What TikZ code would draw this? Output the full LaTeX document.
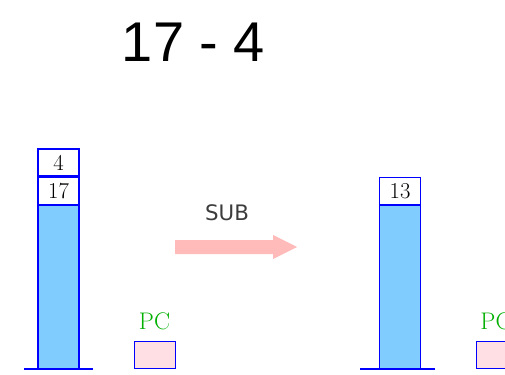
\documentclass[tikz,border=0pt]{standalone}
\usepackage{fontspec}
\newfontfamily\handfont{Liberation Sans}
\newfontfamily\opfont{DejaVu Sans}
\definecolor{stackblue}{RGB}{128,204,255}
\definecolor{edgeblue}{RGB}{0,0,255}
\definecolor{pcpink}{RGB}{255,222,228}
\definecolor{pcgreen}{RGB}{0,175,0}
\definecolor{arrowpink}{RGB}{255,186,186}
\definecolor{opgray}{RGB}{60,60,60}
\tikzset{
  cell/.style={draw=edgeblue, fill=white, line width=1pt, minimum width=30.75pt, minimum height=20.25pt, inner sep=0pt, font=\fontsize{17}{19}\selectfont},
  bar/.style={draw=edgeblue, fill=stackblue, line width=1pt, minimum width=30.75pt, inner sep=0pt},
  pcbox/.style={draw=edgeblue, fill=pcpink, line width=1pt, minimum width=30.75pt, minimum height=20.25pt, inner sep=0pt},
  pclabel/.style={text=pcgreen, inner sep=0.75pt, font=\fontsize{18}{20}\selectfont},
  ground/.style={draw=edgeblue, line width=1pt}
}
\begin{document}
\begin{tikzpicture}[x=0.75pt,y=0.75pt,yscale=-1,xscale=1]
\useasboundingbox (0,0) rectangle (505,374);
\clip (0,0) rectangle (505,374);

% Text Node
\node (title) [anchor=base, inner sep=0pt, font=\handfont\fontsize{42}{44}\selectfont] at (193.5,62) {17 - 4};

%Left stack
\node (barL) [bar, minimum height=123pt, anchor=north] at (58.5,205) {};
\node (cellB) [cell, anchor=south] at (barL.north) {17};
\node (cellA) [cell, anchor=south] at (cellB.north) {4};
\draw [ground] (24,369) -- (93,369);

%PC left
\node (pcL) [pcbox, anchor=south west] at (134,369) {};
\node (pcLtxt) [pclabel] at (154.5,321) {PC};

%Arrow
\draw [fill=arrowpink, draw=none] (175,240) -- (273,240) -- (273,235) -- (297,247) -- (273,259) -- (273,254) -- (175,254) -- cycle;
% Text Node
\node (op) [text=opgray, font=\opfont\fontsize{16}{18}\selectfont] at (227,213) {SUB};

%Right stack
\node (barR) [bar, minimum height=123pt, anchor=north] at (400,205) {};
\node (cellC) [cell, anchor=south] at (barR.north) {13};
\draw [ground] (360,369) -- (435,369);

%PC right
\node (pcR) [pcbox, anchor=south west] at (475.5,369) {};
\node (pcRtxt) [pclabel] at (496,321) {PC};

\end{tikzpicture}
\end{document}
